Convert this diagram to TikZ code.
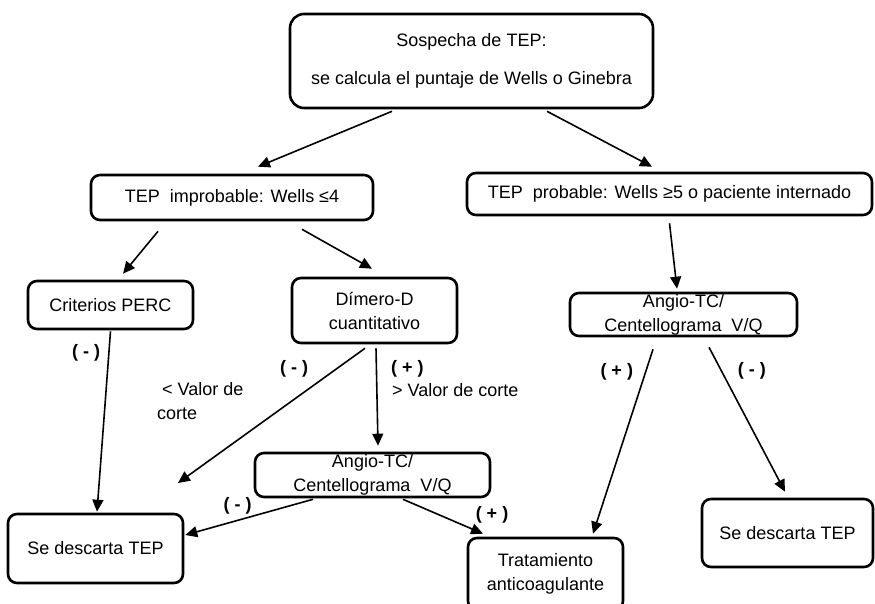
\documentclass[tikz,border=0pt]{standalone}
\usepackage{fontspec}
\setmainfont{Liberation Sans}
\usetikzlibrary{arrows.meta,positioning}

\begin{document}
\begin{tikzpicture}[node distance=2cm, on grid,
    >={Triangle[length=12pt,width=11pt]},
    every node/.style={font=\fontsize{18}{24}\selectfont},
    caja/.style={draw,line width=2.6pt,rounded corners=9pt,align=center,inner sep=0pt,fill=white},
    lbl/.style={inner sep=0pt,font=\fontsize{18}{24}\selectfont\bfseries}]
          \useasboundingbox (0,0) rectangle (875pt,-603pt);
          \node[caja,minimum width=363pt,minimum height=94pt,rounded corners=14pt] (sosp) at (471.5pt,-61pt) {Sospecha de TEP:\\[14pt]se calcula el puntaje de Wells o Ginebra};
          \node[caja,minimum width=282pt,minimum height=45pt] (improb) [below left=136.5pt and 239.5pt of sosp] {TEP~ improbable: Wells ≤4};
          \node[caja,minimum width=405pt,minimum height=42pt] (prob) [below right=133pt and 198pt of sosp] {TEP~ probable: Wells ≥5 o paciente internado};
          \node[caja,minimum width=165pt,minimum height=48pt] (perc) [below left=107.5pt and 121.5pt of improb] {Criterios PERC};
          \node[caja,minimum width=165pt,minimum height=65pt] (dimero) [below right=113pt and 142.5pt of improb] {Dímero-D\\cuantitativo};
          \node[caja,minimum width=227pt,minimum height=43pt] (angio_r) [below right=120.5pt and 14pt of prob] {Angio-TC/\\Centellograma~ V/Q};
          \node[caja,minimum width=235pt,minimum height=44pt] (angio_m) [below left=164.5pt and 2pt of dimero] {Angio-TC/\\Centellograma~ V/Q};
          \node[caja,minimum width=175pt,minimum height=69pt] (desc_l) [below left=243.5pt and 15pt of perc] {Se descarta TEP};
          \node[caja,minimum width=155pt,minimum height=72pt] (trat) [below right=99pt and 173pt of angio_m] {Tratamiento\\anticoagulante};
          \node[caja,minimum width=171pt,minimum height=68pt] (desc_r) [below right=218.5pt and 104pt of angio_r] {Se descarta TEP};
          \coordinate[below left=172.5pt and 196.5pt of dimero] (libre);
          \node[align=left,inner sep=0pt] (val_menor) [below left=90.5pt and 217.5pt of dimero, anchor=west] {\ < Valor de\\corte};
          \node[inner sep=0pt] (val_mayor) [below right=79.5pt and 17.5pt of dimero, anchor=west] {> Valor de corte};
          \node[lbl] (l_mpos) [above left=59pt and 53.5pt of trat] {( + )};
            \path[->,line width=1.6pt]
              ([xshift=-79.5pt,yshift=-2pt]sosp.south) edge ([xshift=26pt,yshift=7pt]improb.north)
              ([xshift=75.5pt,yshift=-2pt]sosp.south) edge ([xshift=-17.5pt,yshift=5pt]prob.north)
              ([xshift=-74pt,yshift=-10pt]improb.south) edge ([xshift=12.5pt,yshift=6pt]perc.north)
              ([xshift=70pt,yshift=-8pt]improb.south) edge ([xshift=-2.5pt,yshift=8pt]dimero.north)
              ([yshift=-7pt]prob.south) edge ([xshift=-6.5pt,yshift=3pt]angio_r.north)
              ([yshift=-1pt]perc.south) edge node[lbl,left=8pt,pos=.12] (l_perc) {( - )} ([xshift=1.5pt,yshift=1pt]desc_l.north)
              ([xshift=-9.5pt,yshift=-4pt]dimero.south) edge node[lbl,left=28pt,pos=.15] (l_dneg) {( - )} (libre)
              ([xshift=1.5pt,yshift=-4pt]dimero.south) edge node[lbl,right=14pt,pos=.21] (l_dpos) {( + )} ([xshift=5.5pt,yshift=6pt]angio_m.north)
              ([xshift=-59.5pt,yshift=-1pt]angio_m.south) edge node[lbl,above=5pt,pos=.59] (l_mneg) {( - )} ([xshift=1pt,yshift=13.5pt]desc_l.east)
              ([xshift=30.5pt,yshift=-1pt]angio_m.south) edge ([xshift=-62.5pt,yshift=3pt]trat.north)
              ([xshift=-30.5pt,yshift=-12pt]angio_r.south) edge node[lbl,left=12pt,pos=.12] (l_rpos) {( + )} ([xshift=47.5pt,yshift=3pt]trat.north)
              ([xshift=25.5pt,yshift=-10pt]angio_r.south) edge node[lbl,right=16pt,pos=.16] (l_rneg) {( - )} ([xshift=-2.5pt,yshift=6pt]desc_r.north);
        \end{tikzpicture}
\end{document}
